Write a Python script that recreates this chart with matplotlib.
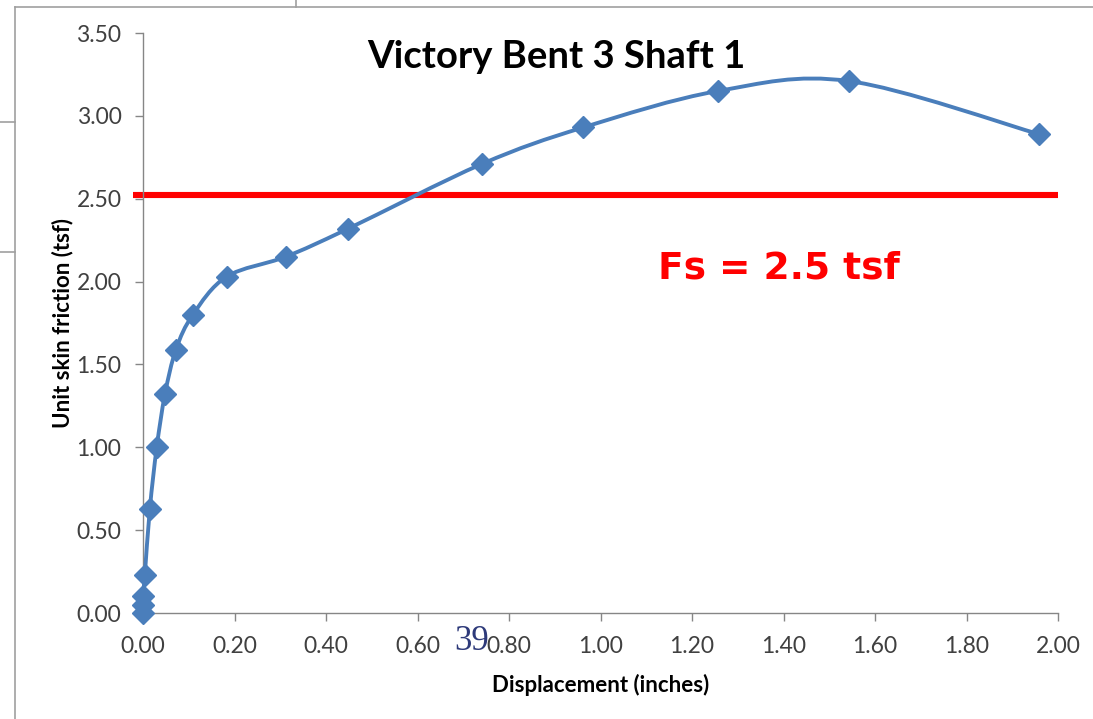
import numpy as np
import matplotlib
matplotlib.use("Agg")
import matplotlib.pyplot as plt
from matplotlib.path import Path
from matplotlib.patches import PathPatch
from matplotlib.lines import Line2D

# data
disp = [0.0, 0.0, 0.0, 0.004, 0.015, 0.030, 0.048, 0.072, 0.109, 0.183,
        0.312, 0.449, 0.741, 0.962, 1.257, 1.543, 1.958]
friction = [0.0, 0.05, 0.10, 0.23, 0.63, 1.00, 1.32, 1.59, 1.80, 2.03,
            2.15, 2.32, 2.71, 2.93, 3.15, 3.21, 2.89]
fs_value = 2.52
x_ticks = [0.0, 0.2, 0.4, 0.6, 0.8, 1.0, 1.2, 1.4, 1.6, 1.8, 2.0]
y_ticks = [0.0, 0.5, 1.0, 1.5, 2.0, 2.5, 3.0, 3.5]

W, H = 1093, 719
fig = plt.figure(figsize=(W / 100, H / 100), dpi=100)
ax = fig.add_axes([143 / W, 1 - 613 / H, (1058 - 143) / W, (613 - 33) / H])

font = "Lato"
blue = "#4A7EBB"
grey = "#868686"

# smooth line like Excel (Catmull-Rom as bezier segments)
pts = np.column_stack([disp, friction])
n = len(pts)
verts = [tuple(pts[0])]
codes = [Path.MOVETO]
for i in range(n - 1):
    p0 = pts[max(i - 1, 0)]
    p1 = pts[i]
    p2 = pts[i + 1]
    p3 = pts[min(i + 2, n - 1)]
    c1 = p1 + (p2 - p0) / 6
    c2 = p2 - (p3 - p1) / 6
    verts += [tuple(c1), tuple(c2), tuple(p2)]
    codes += [Path.CURVE4] * 3
ax.add_patch(PathPatch(Path(verts, codes), facecolor="none", edgecolor=blue,
                       lw=2.8, capstyle="round", joinstyle="round", zorder=3,
                       clip_on=False))
ax.plot(disp, friction, linestyle="none", marker="D", markersize=11,
        color=blue, zorder=4, clip_on=False)

# Fs line
ax.plot([-0.022, 2.0], [fs_value, fs_value], color="#FF0000", lw=4.4,
        clip_on=False, zorder=2, solid_capstyle="butt")

ax.set_xlim(0, 2.0)
ax.set_ylim(0, 3.5)
ax.set_xticks(x_ticks)
ax.set_yticks(y_ticks)
ax.set_xticklabels([f"{v:.2f}" for v in x_ticks], fontfamily=font, fontsize=16.5, color="#404040")
ax.set_yticklabels([f"{v:.2f}" for v in y_ticks], fontfamily=font, fontsize=16.5, color="#404040")
ax.tick_params(axis="y", direction="out", length=5.5, width=1, color=grey, pad=10)
ax.tick_params(axis="x", direction="out", length=5.5, width=1, color=grey, pad=11)
for s in ["top", "right"]:
    ax.spines[s].set_visible(False)
for s in ["left", "bottom"]:
    ax.spines[s].set_color(grey)
    ax.spines[s].set_linewidth(1)

ax.set_xlabel("Displacement (inches)", fontfamily=font, fontweight="bold", fontsize=16, labelpad=12)
ax.set_ylabel("Unit skin friction (tsf)", fontfamily=font, fontweight="bold", fontsize=16, labelpad=2)

fig.text(556 / W, 1 - 57 / H, "Victory Bent 3 Shaft 1", fontfamily=font, fontweight="bold",
         fontsize=27.5, ha="center", va="center")
fig.text(779 / W, 1 - 268 / H, "Fs = 2.5 tsf", fontfamily="DejaVu Sans", fontweight="bold",
         fontsize=27, color="#FF0000", ha="center", va="center")

# page number from the screenshot
fig.text(472 / W, 1 - 641 / H, "39", fontfamily="Liberation Serif", fontsize=25,
         color="#2E3A7A", ha="center", va="center")

# screenshot frame lines
def fline(x0, y0, x1, y1):
    fig.add_artist(Line2D([x0 / W, x1 / W], [1 - y0 / H, 1 - y1 / H],
                          transform=fig.transFigure, color="#A0A0A0", lw=1.2))

fline(15, 7, 15, H)
fline(15, 7, W, 7)
fline(296, 0, 296, 7)
fline(0, 122, 15, 122)
fline(0, 252, 15, 252)

fig.savefig("out.png", dpi=100, facecolor="white")
